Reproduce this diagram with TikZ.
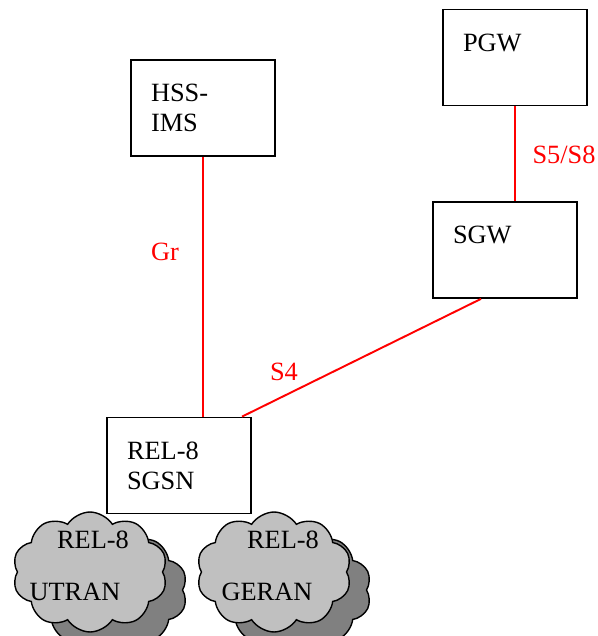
\documentclass[tikz,border=0pt]{standalone}
\usepackage{fontspec}
\setmainfont{Liberation Serif}
\usetikzlibrary{shapes.symbols}
\definecolor{linkred}{RGB}{255,0,0}
\definecolor{cloudlight}{RGB}{192,192,192}
\definecolor{clouddark}{RGB}{128,128,128}
\newcommand{\netfont}{\fontsize{15}{17}\selectfont}

\begin{document}
\begin{tikzpicture}[
    x=0.02cm, y=-0.02cm,
    box/.style={rectangle,draw=black,line width=1pt,fill=white,
      minimum width=2.88cm,minimum height=1.92cm,text width=2.08cm,
      inner xsep=0.4cm,align=left,font=\netfont},
    link/.style={draw=linkred,line width=1.1pt},
    linklabel/.style={text=linkred,font=\netfont,inner sep=0pt},
    cloudfront/.style={cloud,cloud puffs=10,cloud puff arc=115,draw=black,line width=0.8pt,
      fill=cloudlight,minimum width=3.1cm,minimum height=2.4cm,aspect=1.3},
    cloudback/.style={cloudfront,fill=clouddark},
    cloudtext/.style={font=\netfont,inner sep=0pt,anchor=base}
  ]
    \useasboundingbox (0,0) rectangle (598,636);

    % network elements
    \node[box] (pgw) at (515,57.5) {PGW\\\mbox{}};
    \node[box] (hss) at (203,108) {HSS-\\IMS};
    \node[box] (sgw) at (505,250) {SGW\\\mbox{}};
    \node[box] (sgsn) at (179,465.5) {REL-8\\SGSN};

    % radio access clouds
    \node[cloudback] (utranbg) at (110,590) {};
    \node[cloudfront] (utran) at (90,572) {};
    \node[cloudback] (geranbg) at (294,590) {};
    \node[cloudfront] (geran) at (274,572) {};
    \node[cloudtext] (utrantop) at (93,548) {REL-8};
    \node[cloudtext] (utranbot) at (75,600) {UTRAN};
    \node[cloudtext] (gerantop) at (283,548) {REL-8};
    \node[cloudtext] (geranbot) at (267,600) {GERAN};

    % interfaces
    \draw[link] (hss.south) -- (hss.south |- sgsn.north);
    \draw[link] (pgw.south) -- (pgw.south |- sgw.north);
    \draw[link] ([xshift=-0.48cm]sgw.south) -- ([xshift=1.26cm]sgsn.north);
    \node[linklabel] (gr) at (165,252) {Gr};
    \node[linklabel] (s5s8) at (564,155) {S5/S8};
    \node[linklabel] (s4) at (284,372) {S4};
  \end{tikzpicture}
\end{document}
